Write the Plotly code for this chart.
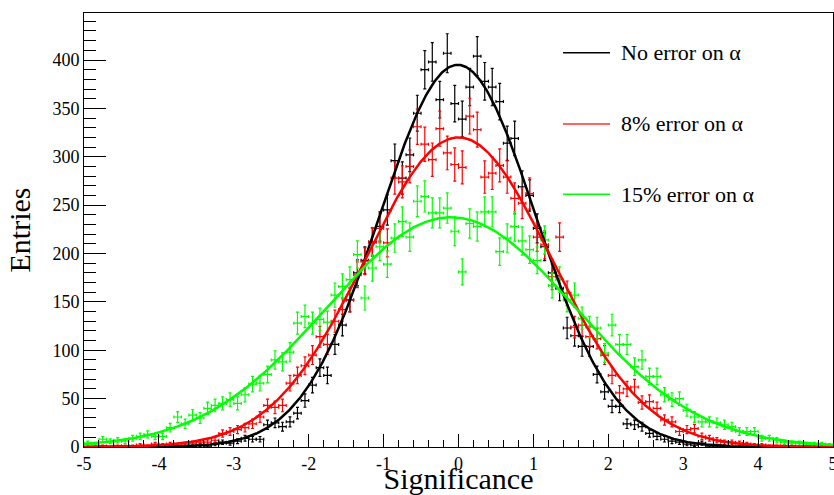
import numpy as np
import plotly.graph_objects as go

# ---------------- data ----------------
bin_centers = [round(-4.95 + 0.1 * i, 2) for i in range(100)]

no_error = [
    0, 0, 0, 0, 0, 0, 0, 0, 0, 0,
    0, 0, 1, 0, 1, 2, 1, 3, 5, 4,
    6, 9, 8, 8, 23, 25, 21, 26, 35, 48,
    64, 82, 74, 106, 126, 152, 180, 193, 212, 228,
    245, 296, 278, 302, 345, 390, 398, 359, 407, 355,
    339, 372, 404, 378, 372, 357, 314, 319, 269, 260,
    226, 207, 180, 164, 123, 115, 104, 104, 75, 57,
    42, 42, 24, 23, 21, 14, 11, 8, 6, 5,
    3, 2, 4, 1, 1, 1, 0, 0, 0, 0,
    0, 0, 0, 0, 0, 0, 0, 0, 0, 0,
]

err8 = [
    0, 0, 1, 0, 1, 1, 1, 2, 1, 3,
    2, 3, 2, 3, 4, 5, 5, 7, 14, 16,
    18, 20, 24, 31, 43, 41, 43, 66, 74, 84,
    95, 114, 106, 130, 142, 152, 178, 192, 212, 226,
    211, 278, 274, 290, 331, 313, 297, 329, 304, 292,
    289, 342, 328, 279, 283, 291, 279, 257, 252, 262,
    217, 209, 176, 217, 159, 124, 126, 114, 112, 95,
    74, 56, 60, 62, 46, 47, 40, 28, 26, 16,
    18, 19, 11, 9, 7, 5, 5, 4, 3, 2,
    2, 1, 1, 1, 1, 0, 1, 0, 0, 0,
]

err15 = [
    4, 3, 8, 6, 7, 6, 9, 11, 13, 11,
    11, 20, 31, 24, 33, 30, 40, 43, 45, 49,
    45, 54, 65, 66, 75, 90, 88, 98, 128, 135,
    128, 132, 129, 157, 166, 173, 199, 154, 185, 207,
    189, 216, 233, 217, 254, 259, 242, 242, 247, 223,
    181, 231, 228, 243, 243, 202, 216, 228, 213, 204,
    193, 214, 167, 173, 152, 157, 133, 124, 123, 97,
    126, 106, 106, 83, 90, 73, 73, 54, 49, 50,
    38, 31, 26, 26, 25, 23, 21, 16, 16, 16,
    9, 9, 7, 5, 4, 4, 3, 3, 3, 2,
]

# Gaussian fit parameters (amplitude, mean, sigma)
fit_no_error = (395.0, -0.01, 1.04)
fit_err8 = (320.0, 0.0, 1.245)
fit_err15 = (237.5, -0.10, 1.66)

series_names = ["No error on \u03b1", "8% error on \u03b1", "15% error on \u03b1"]
colors = ["#000000", "#ff0000", "#00ff00"]
legend_colors = ["#000000", "#ff3030", "#00ff00"]

FONT = "Liberation Serif, Times New Roman, Times, serif"

# ---------------- figure ----------------
fig = go.Figure()
x_fine = np.linspace(-5, 5, 801)

datasets = [no_error, err8, err15]
fits = [fit_no_error, fit_err8, fit_err15]

for vals, col, name in zip(datasets, colors, series_names):
    y = [v if v > 0 else None for v in vals]
    ey = [np.sqrt(v) if v > 0 else 0 for v in vals]
    fig.add_trace(go.Scatter(
        x=bin_centers, y=y, mode="markers", name=name, showlegend=False,
        marker=dict(size=1, color=col),
        error_y=dict(type="data", array=ey, visible=True, color=col,
                     thickness=1.2, width=1.5),
        error_x=dict(type="constant", value=0.05, visible=True, color=col,
                     thickness=1.2, width=1.5),
    ))

for (A, mu, s), col, name in zip(fits, colors, series_names):
    yf = A * np.exp(-0.5 * ((x_fine - mu) / s) ** 2)
    fig.add_trace(go.Scatter(
        x=x_fine, y=yf, mode="lines", name=name + " fit", showlegend=False,
        line=dict(color=col, width=2.5),
    ))

# plot-area geometry (px)
W, H = 834, 495
L, R, T, B = 84, 1, 13, 48
pw, ph = W - L - R, H - T - B

def px2paper(px, py):
    return (px - L) / pw, (H - B - py) / ph

# legend drawn manually
legend_y = [52.7, 124.0, 194.3]
for name, col, ly in zip(series_names, legend_colors, legend_y):
    x0, y0 = px2paper(563, ly)
    x1, _ = px2paper(610, ly)
    fig.add_shape(type="line", xref="paper", yref="paper",
                  x0=x0, x1=x1, y0=y0, y1=y0,
                  line=dict(color=col, width=1.5))
    tx, _ = px2paper(619, ly)
    fig.add_annotation(xref="paper", yref="paper", x=tx, y=y0,
                       text=name, showarrow=False, xanchor="left",
                       yanchor="middle",
                       font=dict(family=FONT, size=22, color="black"))

xticks = [-5, -4, -3, -2, -1, 0, 1, 2, 3, 4, 5]
xticktext = [str(v) for v in xticks]

fig.update_layout(
    width=W, height=H,
    margin=dict(l=L, r=R, t=T, b=B, pad=0, autoexpand=False),
    paper_bgcolor="white", plot_bgcolor="white",
    font=dict(family=FONT, size=18, color="black"),
    xaxis=dict(
        range=[-5, 5], showgrid=False, zeroline=False, automargin=False,
        showline=True, linecolor="black", linewidth=1, mirror=True,
        ticks="inside", ticklen=13, tickwidth=1, tickcolor="black",
        tickvals=xticks, ticktext=xticktext, ticklabeloverflow="allow",
        tickfont=dict(family=FONT, size=18),
        minor=dict(dtick=0.2, tick0=0, ticks="inside", ticklen=7,
                   tickwidth=1, tickcolor="black", showgrid=False),
        title=dict(text="Significance", font=dict(family=FONT, size=30),
                   standoff=6),
    ),
    yaxis=dict(
        range=[0, 448.6], showgrid=False, zeroline=False, automargin=False,
        showline=True, linecolor="black", linewidth=1, mirror=True,
        ticks="inside", ticklen=22, tickwidth=1, tickcolor="black",
        tickvals=[0, 50, 100, 150, 200, 250, 300, 350, 400],
        tickfont=dict(family=FONT, size=18),
        minor=dict(dtick=10, tick0=0, ticks="inside", ticklen=12,
                   tickwidth=1, tickcolor="black", showgrid=False),
        title=dict(text="Entries", font=dict(family=FONT, size=30),
                   standoff=12),
    ),
)

fig.write_html(
    "out.html",
    config={"displayModeBar": False},
    post_script="document.body.style.margin='0';document.body.style.padding='0';",
)
